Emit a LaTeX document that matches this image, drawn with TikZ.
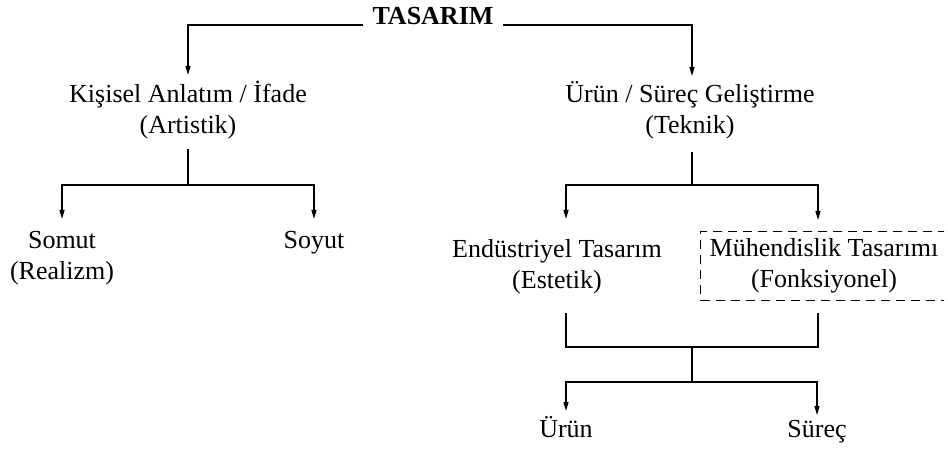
\documentclass[tikz,border=0pt]{standalone}
\usepackage{fontspec}
\setmainfont{Liberation Serif}
\usetikzlibrary{arrows.meta}

\begin{document}
\begin{tikzpicture}
[x=1pt,y=-1pt,line width=1.3pt,>={Triangle[length=9pt,width=5pt]},%
  every node/.style={align=center,inner sep=5pt,font=\fontsize{26}{31}\selectfont}]
\useasboundingbox (0,0) rectangle (948,454);
\clip (0,0) rectangle (944,454);
\node[anchor=base,font=\fontsize{26}{31}\selectfont\bfseries,inner xsep=9pt]
  (tasarim) at (433,25) {TASARIM};
%%
\node[anchor=north] (artistik) at (188,75) {Kişisel Anlatım / İfade\\(Artistik)};
\node[anchor=north] (teknik) at (690,76) {Ürün / Süreç Geliştirme\\(Teknik)};
%%
\node[anchor=north] (somut) at (62,226) {Somut\\(Realizm)};
\node[anchor=north] (soyut) at (314,226) {Soyut};
%%
\node[anchor=north] (endustriyel) at (557,234) {Endüstriyel Tasarım\\(Estetik)};
\node[anchor=north,draw,dash pattern=on 9pt off 6pt,line width=1.5pt,inner xsep=9pt,inner ysep=7pt]
  (muhendislik) at (824,231) {Mühendislik Tasarımı\\(Fonksiyonel)};
%%
\node[anchor=north] (urun) at (566,411) {Ürün};
\node[anchor=north] (surec) at (817,415) {Süreç};
%%
\coordinate (artfork) at (188,185);
\coordinate (teknikfork) at (692,185);
\coordinate (merge) at (692,347);
\coordinate (split) at (692,382);
%%
\draw[->] (tasarim.base west) -| (artistik.north);
\draw[->] (tasarim.base east) -| ([xshift=2pt]teknik.north);
\draw[shorten <=5pt] (artistik.south) -- (artfork);
\draw[->,shorten >=7pt] (artfork) -| (somut.north);
\draw[->,shorten >=7pt] (artfork) -| (soyut.north);
\draw[shorten <=7pt] ([xshift=2pt]teknik.south) -- (teknikfork);
\draw[->,shorten >=15pt] (teknikfork) -| ([xshift=9pt]endustriyel.north);
\draw[->,shorten >=11pt] (teknikfork) -| ([xshift=-6pt]muhendislik.north);
\draw[shorten <=13pt] ([xshift=9pt]endustriyel.south) |- (merge);
\draw[shorten <=12pt] ([xshift=-6pt]muhendislik.south) |- (merge);
\draw (merge) -- (split);
\draw[->] (split) -| (urun.north);
\draw[->] (split) -| (surec.north);
\end{tikzpicture}
\end{document}
